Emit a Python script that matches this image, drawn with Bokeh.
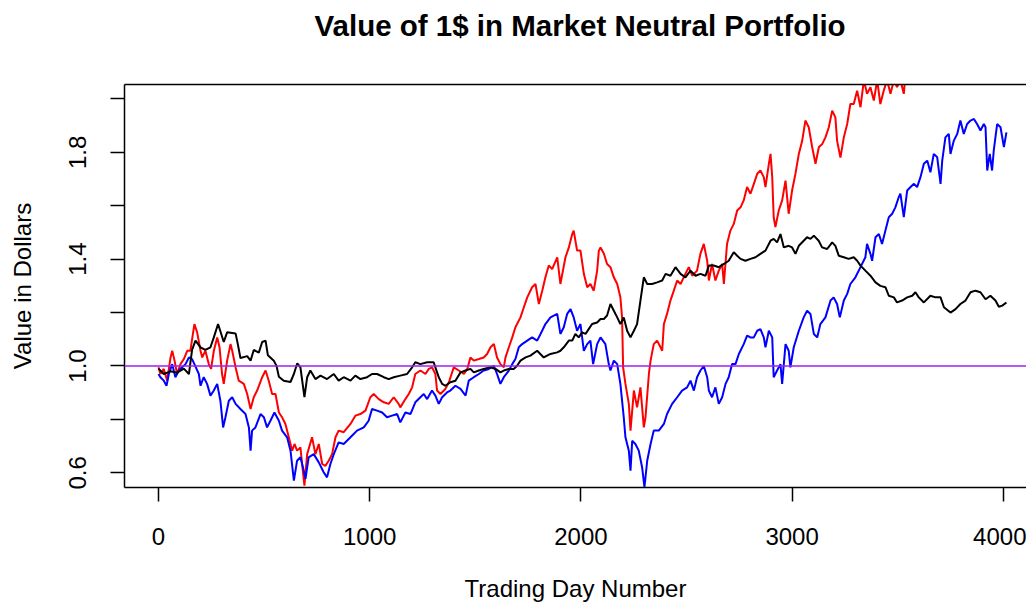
from bokeh.plotting import figure
from bokeh.models import Range1d, FixedTicker, LinearAxis, Span, PrintfTickFormatter, Title
from bokeh.embed import file_html
from bokeh.resources import INLINE

# ---------------- data (trading day, value of 1$) ----------------
TITLE = "Value of 1$ in Market Neutral Portfolio"
X_LABEL = "Trading Day Number"
Y_LABEL = "Value in Dollars"
x_ticks = [0, 1000, 2000, 3000, 4000]
y_ticks_labeled = [0.6, 1.0, 1.4, 1.8]
y_ticks_unlabeled = [0.8, 1.2, 1.6, 2.0]
reference_value = 1.0

black_series = [
    (0, 0.99), (25, 0.97), (57, 0.98), (88, 0.975), (120, 0.99), (144, 0.97), (159, 1.06), (175, 1.095),
    (199, 1.07), (222, 1.06), (246, 1.07), (262, 1.107), (282, 1.157), (293, 1.13), (309, 1.09), (325, 1.126),
    (365, 1.122), (376, 1.08), (388, 1.03), (420, 1.037), (436, 1.02), (451, 1.06), (475, 1.05), (491, 1.09),
    (507, 1.095), (518, 1.04), (546, 1.02), (559, 1.0), (570, 0.96), (593, 0.945), (625, 0.94), (641, 0.97),
    (657, 1.01), (672, 0.995), (691, 0.883), (704, 0.958), (719, 0.983), (743, 0.951), (767, 0.964), (798, 0.951),
    (830, 0.97), (853, 0.945), (877, 0.958), (909, 0.945), (932, 0.964), (956, 0.951), (988, 0.958), (1011, 0.97),
    (1035, 0.97), (1067, 0.958), (1090, 0.951), (1114, 0.958), (1145, 0.964), (1177, 0.97), (1201, 0.995), (1216, 1.014),
    (1240, 1.007), (1272, 1.014), (1303, 1.014), (1311, 0.995), (1327, 0.958), (1343, 0.933), (1358, 0.926), (1382, 0.939),
    (1406, 0.945), (1430, 0.976), (1454, 0.983), (1477, 0.989), (1493, 0.976), (1517, 0.983), (1540, 0.989), (1572, 0.995),
    (1596, 0.989), (1619, 0.976), (1635, 0.983), (1659, 0.989), (1682, 0.989), (1698, 1.001), (1714, 1.02), (1738, 1.032),
    (1761, 1.039), (1793, 1.057), (1824, 1.032), (1856, 1.045), (1888, 1.051), (1903, 1.057), (1919, 1.07), (1943, 1.095),
    (1959, 1.095), (1974, 1.12), (1990, 1.107), (2006, 1.126), (2022, 1.12), (2037, 1.138), (2053, 1.157), (2077, 1.163),
    (2093, 1.176), (2109, 1.176), (2124, 1.189), (2140, 1.232), (2156, 1.207), (2172, 1.182), (2187, 1.157), (2203, 1.182),
    (2219, 1.132), (2235, 1.107), (2251, 1.132), (2266, 1.157), (2282, 1.245), (2298, 1.332), (2314, 1.307), (2337, 1.307),
    (2361, 1.313), (2385, 1.32), (2401, 1.345), (2424, 1.338), (2448, 1.37), (2472, 1.345), (2495, 1.332), (2519, 1.357),
    (2543, 1.338), (2566, 1.345), (2590, 1.338), (2606, 1.376), (2629, 1.376), (2653, 1.37), (2677, 1.382), (2700, 1.394),
    (2724, 1.426), (2740, 1.413), (2756, 1.401), (2779, 1.394), (2803, 1.401), (2827, 1.407), (2850, 1.42), (2874, 1.432),
    (2898, 1.469), (2913, 1.476), (2929, 1.463), (2945, 1.494), (2961, 1.444), (2984, 1.45), (3000, 1.444), (3016, 1.42),
    (3032, 1.45), (3055, 1.469), (3071, 1.482), (3087, 1.476), (3103, 1.488), (3126, 1.469), (3142, 1.444), (3166, 1.438),
    (3190, 1.463), (3205, 1.45), (3221, 1.413), (3245, 1.407), (3268, 1.401), (3292, 1.407), (3308, 1.394), (3324, 1.376),
    (3347, 1.357), (3371, 1.338), (3395, 1.313), (3418, 1.30), (3442, 1.295), (3458, 1.263), (3482, 1.257), (3497, 1.238),
    (3521, 1.245), (3545, 1.257), (3569, 1.263), (3584, 1.276), (3600, 1.257), (3624, 1.238), (3655, 1.263), (3679, 1.257),
    (3703, 1.257), (3719, 1.22), (3750, 1.20), (3774, 1.213), (3797, 1.232), (3821, 1.245), (3845, 1.276), (3868, 1.282),
    (3892, 1.276), (3916, 1.25), (3939, 1.263), (3963, 1.245), (3979, 1.222), (3995, 1.226), (4015, 1.238),
]

red_series = [
    (0, 0.995), (9, 0.97), (25, 0.989), (41, 0.945), (57, 1.032), (65, 1.057), (76, 1.02), (88, 0.97),
    (104, 1.007), (120, 1.026), (136, 1.057), (151, 1.057), (159, 1.10), (170, 1.157), (183, 1.126), (199, 1.057),
    (207, 1.032), (222, 1.057), (238, 1.007), (249, 0.989), (262, 1.057), (278, 1.107), (289, 1.07), (301, 0.97),
    (309, 0.933), (325, 1.02), (341, 1.082), (349, 1.057), (365, 0.995), (380, 0.945), (404, 0.933), (420, 0.895),
    (436, 0.839), (451, 0.883), (467, 0.908), (491, 0.958), (507, 0.983), (522, 0.945), (538, 0.895), (554, 0.895),
    (570, 0.826), (585, 0.808), (601, 0.783), (617, 0.733), (633, 0.683), (644, 0.708), (656, 0.683), (672, 0.695),
    (680, 0.633), (691, 0.552), (704, 0.67), (727, 0.733), (743, 0.67), (759, 0.708), (775, 0.633), (790, 0.626),
    (806, 0.645), (822, 0.67), (838, 0.733), (853, 0.758), (877, 0.752), (909, 0.783), (932, 0.814), (956, 0.82),
    (980, 0.833), (1003, 0.883), (1019, 0.895), (1043, 0.876), (1067, 0.864), (1090, 0.858), (1114, 0.883), (1137, 0.858),
    (1145, 0.845), (1169, 0.876), (1185, 0.895), (1201, 0.92), (1216, 0.97), (1240, 0.983), (1264, 0.97), (1280, 0.989),
    (1295, 0.995), (1311, 0.97), (1319, 0.908), (1335, 0.895), (1358, 0.914), (1375, 0.939), (1398, 0.995), (1422, 0.983),
    (1446, 0.97), (1462, 0.989), (1477, 1.032), (1493, 1.02), (1517, 1.026), (1540, 1.032), (1556, 1.045), (1572, 1.07),
    (1588, 1.082), (1603, 1.032), (1619, 1.007), (1635, 0.995), (1643, 1.032), (1659, 1.07), (1675, 1.107), (1690, 1.145),
    (1714, 1.182), (1730, 1.22), (1746, 1.257), (1769, 1.295), (1785, 1.307), (1801, 1.232), (1817, 1.282), (1832, 1.332),
    (1848, 1.376), (1864, 1.363), (1888, 1.407), (1903, 1.307), (1927, 1.407), (1943, 1.444), (1959, 1.494), (1966, 1.507),
    (1982, 1.432), (1998, 1.432), (2014, 1.345), (2030, 1.295), (2045, 1.307), (2061, 1.282), (2077, 1.357), (2085, 1.432),
    (2093, 1.444), (2109, 1.42), (2124, 1.382), (2140, 1.37), (2156, 1.332), (2172, 1.307), (2187, 1.257), (2195, 1.182),
    (2200, 0.995), (2211, 0.933), (2227, 0.858), (2235, 0.758), (2251, 0.908), (2266, 0.845), (2282, 0.92), (2298, 0.77),
    (2306, 0.808), (2322, 0.97), (2330, 1.02), (2345, 1.082), (2361, 1.095), (2377, 1.07), (2385, 1.057), (2393, 1.157),
    (2408, 1.195), (2424, 1.245), (2440, 1.282), (2456, 1.32), (2472, 1.307), (2487, 1.332), (2511, 1.37), (2527, 1.338),
    (2550, 1.357), (2566, 1.42), (2582, 1.457), (2598, 1.394), (2606, 1.32), (2621, 1.382), (2637, 1.32), (2653, 1.357),
    (2669, 1.382), (2677, 1.307), (2692, 1.457), (2708, 1.507), (2724, 1.532), (2740, 1.582), (2756, 1.594), (2771, 1.62),
    (2787, 1.67), (2803, 1.645), (2819, 1.682), (2835, 1.72), (2850, 1.732), (2866, 1.707), (2874, 1.67), (2890, 1.757),
    (2898, 1.794), (2906, 1.707), (2913, 1.557), (2921, 1.52), (2937, 1.582), (2953, 1.62), (2969, 1.694), (2984, 1.57),
    (3000, 1.657), (3016, 1.72), (3032, 1.794), (3048, 1.844), (3063, 1.919), (3079, 1.894), (3095, 1.82), (3111, 1.757),
    (3127, 1.82), (3142, 1.83), (3158, 1.856), (3174, 1.894), (3190, 1.956), (3205, 1.931), (3213, 1.844), (3229, 1.78),
    (3245, 1.856), (3261, 1.906), (3276, 1.981), (3292, 1.981), (3308, 2.031), (3324, 1.969), (3340, 2.07), (3355, 2.019),
    (3371, 2.044), (3387, 1.994), (3403, 2.07), (3418, 1.981), (3434, 2.031), (3450, 2.07), (3466, 2.019), (3482, 2.07),
    (3497, 2.044), (3513, 2.07), (3529, 2.019), (3540, 2.12),
]

blue_series = [
    (0, 0.97), (9, 0.958), (25, 0.945), (38, 0.926), (49, 0.97), (65, 1.007), (80, 0.958), (96, 0.983),
    (112, 0.995), (128, 1.007), (144, 1.032), (159, 1.026), (170, 1.007), (191, 0.97), (199, 0.926), (214, 0.958),
    (230, 0.933), (246, 0.889), (262, 0.908), (278, 0.933), (293, 0.87), (306, 0.77), (317, 0.808), (333, 0.87),
    (349, 0.883), (365, 0.858), (388, 0.839), (412, 0.82), (428, 0.77), (436, 0.683), (443, 0.758), (459, 0.77),
    (483, 0.82), (499, 0.808), (514, 0.77), (530, 0.795), (549, 0.826), (570, 0.795), (585, 0.758), (609, 0.733),
    (625, 0.683), (641, 0.571), (656, 0.645), (672, 0.658), (688, 0.608), (696, 0.577), (711, 0.658), (735, 0.67),
    (759, 0.639), (782, 0.602), (798, 0.583), (814, 0.633), (830, 0.67), (853, 0.714), (877, 0.708), (909, 0.733),
    (940, 0.758), (972, 0.77), (995, 0.795), (1011, 0.839), (1035, 0.833), (1059, 0.826), (1082, 0.808), (1106, 0.814),
    (1130, 0.82), (1145, 0.789), (1169, 0.826), (1193, 0.82), (1216, 0.864), (1240, 0.883), (1256, 0.895), (1272, 0.876),
    (1295, 0.908), (1311, 0.889), (1327, 0.858), (1343, 0.883), (1366, 0.901), (1382, 0.908), (1406, 0.926), (1430, 0.914),
    (1454, 0.889), (1469, 0.945), (1493, 0.958), (1517, 0.97), (1540, 0.983), (1564, 0.989), (1588, 1.0), (1603, 0.97),
    (1619, 0.933), (1635, 0.958), (1659, 0.983), (1675, 1.007), (1690, 1.026), (1706, 1.07), (1722, 1.082), (1746, 1.095),
    (1769, 1.107), (1793, 1.095), (1809, 1.12), (1832, 1.157), (1856, 1.182), (1888, 1.195), (1903, 1.12), (1919, 1.145),
    (1935, 1.195), (1951, 1.213), (1966, 1.182), (1982, 1.132), (1998, 1.157), (2014, 1.057), (2030, 1.082), (2045, 1.095),
    (2058, 1.007), (2077, 1.082), (2093, 1.107), (2116, 1.082), (2132, 1.007), (2140, 0.983), (2156, 1.02), (2172, 1.007),
    (2187, 0.933), (2203, 0.808), (2211, 0.733), (2227, 0.683), (2235, 0.608), (2243, 0.72), (2258, 0.708), (2274, 0.683),
    (2290, 0.62), (2301, 0.546), (2314, 0.645), (2330, 0.708), (2345, 0.758), (2369, 0.758), (2393, 0.783), (2408, 0.82),
    (2432, 0.858), (2456, 0.883), (2479, 0.908), (2503, 0.92), (2519, 0.945), (2535, 0.908), (2550, 0.958), (2566, 0.983),
    (2582, 1.0), (2598, 0.958), (2606, 0.908), (2621, 0.883), (2637, 0.92), (2653, 0.858), (2669, 0.883), (2685, 0.933),
    (2700, 0.958), (2716, 1.007), (2732, 1.007), (2748, 1.045), (2771, 1.082), (2787, 1.114), (2803, 1.107), (2819, 1.107),
    (2835, 1.132), (2850, 1.138), (2866, 1.107), (2874, 1.07), (2890, 1.132), (2906, 1.107), (2913, 0.958), (2929, 0.983),
    (2945, 1.007), (2953, 0.933), (2969, 1.082), (2984, 1.057), (2992, 0.995), (3008, 1.07), (3032, 1.132), (3055, 1.182),
    (3071, 1.207), (3087, 1.195), (3103, 1.12), (3119, 1.107), (3134, 1.157), (3158, 1.182), (3182, 1.245), (3197, 1.257),
    (3213, 1.232), (3226, 1.182), (3245, 1.245), (3261, 1.27), (3276, 1.307), (3300, 1.332), (3324, 1.37), (3347, 1.407),
    (3355, 1.457), (3371, 1.42), (3379, 1.394), (3395, 1.482), (3411, 1.494), (3426, 1.457), (3442, 1.507), (3458, 1.557),
    (3474, 1.57), (3489, 1.594), (3505, 1.632), (3513, 1.645), (3529, 1.557), (3545, 1.657), (3561, 1.67), (3577, 1.682),
    (3592, 1.67), (3608, 1.707), (3624, 1.757), (3640, 1.769), (3655, 1.725), (3671, 1.794), (3687, 1.782), (3703, 1.682),
    (3711, 1.769), (3726, 1.856), (3742, 1.869), (3750, 1.794), (3766, 1.844), (3782, 1.869), (3797, 1.919), (3813, 1.869),
    (3829, 1.906), (3845, 1.919), (3861, 1.925), (3876, 1.906), (3892, 1.882), (3908, 1.906), (3916, 1.894), (3924, 1.732),
    (3936, 1.794), (3947, 1.732), (3955, 1.807), (3971, 1.906), (3987, 1.894), (4003, 1.82), (4015, 1.875),
]

# ---------------- figure ----------------
FONT = "Liberation Sans"
X_LO, X_HI = -161, 4110
Y_LO, Y_HI = 0.545, 2.054
FRAME_LEFT, FRAME_TOP, FRAME_BOTTOM = 124, 84, 487
W, H = 1026, 605

p = figure(width=W, height=H, output_backend="svg", toolbar_location=None,
           x_range=Range1d(X_LO, X_HI), y_range=Range1d(Y_LO, Y_HI),
           x_axis_type=None, y_axis_type=None,
           min_border_left=FRAME_LEFT, min_border_right=0,
           min_border_top=FRAME_TOP, min_border_bottom=H - FRAME_BOTTOM,
           outline_line_color=None, background_fill_color="white", border_fill_color="white")
p.title.text = ""

xaxis = LinearAxis(ticker=FixedTicker(ticks=x_ticks, minor_ticks=[]),
                   formatter=PrintfTickFormatter(format="%d"), axis_label=X_LABEL)
yaxis = LinearAxis(ticker=FixedTicker(ticks=y_ticks_labeled, minor_ticks=y_ticks_unlabeled),
                   formatter=PrintfTickFormatter(format="%.1f"),
                   axis_label=Y_LABEL, major_label_orientation="vertical")
for ax in (xaxis, yaxis):
    ax.axis_line_color = "black"
    ax.axis_line_width = 1.5
    ax.major_tick_line_color = "black"
    ax.major_tick_line_width = 1.5
    ax.major_tick_in = 0
    ax.major_tick_out = 14
    ax.minor_tick_line_color = "black"
    ax.minor_tick_line_width = 1.5
    ax.minor_tick_in = 0
    ax.minor_tick_out = 14
    ax.major_label_text_font = FONT
    ax.major_label_text_font_size = "24px"
    ax.major_label_text_color = "black"
    ax.axis_label_text_font = FONT
    ax.axis_label_text_font_size = "24px"
    ax.axis_label_text_font_style = "normal"
    ax.axis_label_text_color = "black"
xaxis.major_label_standoff = 26
xaxis.axis_label_standoff = 27
yaxis.major_label_standoff = 24
yaxis.axis_label_standoff = 31
p.add_layout(xaxis, "below")
p.add_layout(yaxis, "left")

# top edge of the plot box: an axis with one invisible, unlabeled tick whose
# length reserves the gap between the box and the title
top_edge = LinearAxis(ticker=FixedTicker(ticks=[x_ticks[0]], minor_ticks=[]),
                      axis_line_color="black", axis_line_width=1.5,
                      major_tick_in=0, major_tick_out=43, major_tick_line_color=None,
                      minor_tick_in=0, minor_tick_out=0, minor_tick_line_color=None,
                      major_label_standoff=0, major_label_text_font_size="1px",
                      major_label_overrides={x_ticks[0]: ""})
p.add_layout(top_edge, "above")

title = Title(text=TITLE, text_font=FONT, text_font_size="29.5px", text_font_style="bold",
              text_color="black", align="left", offset=190, vertical_align="bottom", standoff=0)
p.add_layout(title, "above")

def unzip(series):
    return [d for d, _ in series], [v for _, v in series]

for series, color in ((red_series, "#FF0000"), (blue_series, "#0000FF"), (black_series, "#000000")):
    xs, ys = unzip(series)
    p.line(xs, ys, line_color=color, line_width=2)

p.add_layout(Span(location=reference_value, dimension="width", line_color="#A020F0", line_width=1.5))

open("out.html", "w").write(file_html(p, INLINE))
